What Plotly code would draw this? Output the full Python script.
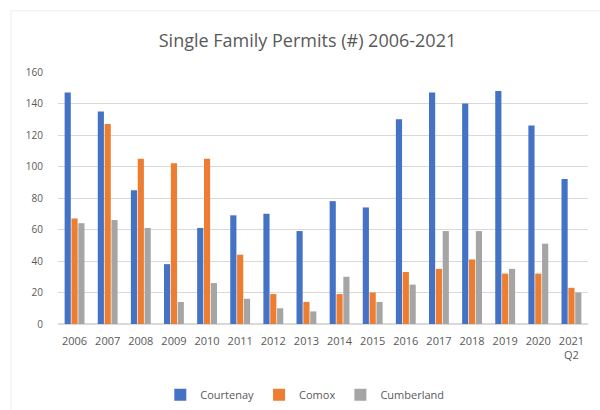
import plotly.graph_objects as go

years = ["2006", "2007", "2008", "2009", "2010", "2011", "2012", "2013",
         "2014", "2015", "2016", "2017", "2018", "2019", "2020", "2021<br>Q2"]
courtenay = [147, 135, 85, 38, 61, 69, 70, 59, 78, 74, 130, 147, 140, 148, 126, 92]
comox = [67, 127, 105, 102, 105, 44, 19, 14, 19, 20, 33, 35, 41, 32, 32, 23]
cumberland = [64, 66, 61, 14, 26, 16, 10, 8, 30, 14, 25, 59, 59, 35, 51, 20]
y_ticks = [0, 20, 40, 60, 80, 100, 120, 140, 160]

FONT = "Open Sans, sans-serif"
GRAY = "#595959"

fig = go.Figure()
for name, vals, color in [("Courtenay", courtenay, "#4472C4"),
                          ("Comox", comox, "#ED7D31"),
                          ("Cumberland", cumberland, "#A5A5A5")]:
    fig.add_trace(go.Bar(x=years, y=vals, name=name, marker_color=color,
                         marker_line_width=0))

fig.update_layout(
    width=600, height=410,
    margin=dict(l=58, r=12, t=72, b=86, autoexpand=False),
    paper_bgcolor="white", plot_bgcolor="white",
    barmode="group", bargap=0.38, bargroupgap=0.1,
    font=dict(family=FONT, color=GRAY, size=11),
    title=dict(text="Single Family Permits (#) 2006-2021", x=0.5125, y=0.9,
               xanchor="center", yanchor="middle",
               font=dict(family=FONT, size=18, color=GRAY)),
    legend=dict(orientation="h", xref="container", x=0.508, xanchor="center",
                yref="container", y=0.037, yanchor="middle",
                font=dict(size=11, color=GRAY),
                itemwidth=30, traceorder="normal"),
    xaxis=dict(showgrid=False, showline=False, ticks="", automargin=False,
               tickfont=dict(size=11, color=GRAY), tickangle=0,
               ticklabelstandoff=9),
    yaxis=dict(range=[0, 160], tickvals=y_ticks, showgrid=True, automargin=False,
               gridcolor="#D9D9D9", gridwidth=1, zeroline=True,
               zerolinecolor="#D9D9D9", ticks="",
               tickfont=dict(size=10, color=GRAY), ticklabelstandoff=14),
    shapes=[dict(type="line", xref="paper", yref="paper", x0=-0.09, x1=1.03,
                 y0=1.243, y1=1.243, line=dict(color="#EEEEEE", width=1)),
            dict(type="line", xref="paper", yref="paper", x0=-0.0887, x1=-0.0887,
                 y0=1.243, y1=-0.35, line=dict(color="#EEEEEE", width=1))],
)

fig.write_html("out.html")
